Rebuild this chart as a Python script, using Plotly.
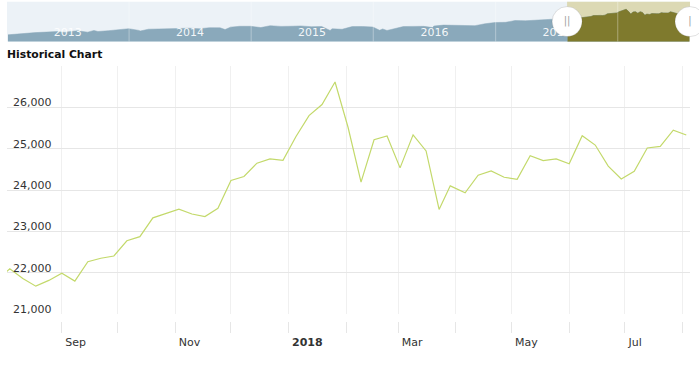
import plotly.graph_objects as go

# ---- main series: weekly closes (week-ending dates) ----
dates = ["2017-07-28", "2017-08-04", "2017-08-11", "2017-08-18", "2017-08-25",
         "2017-09-01", "2017-09-08", "2017-09-15", "2017-09-22", "2017-09-29",
         "2017-10-06", "2017-10-13", "2017-10-20", "2017-10-27", "2017-11-03",
         "2017-11-10", "2017-11-17", "2017-11-24", "2017-12-01", "2017-12-08",
         "2017-12-15", "2017-12-22", "2017-12-29", "2018-01-05", "2018-01-12",
         "2018-01-19", "2018-01-26", "2018-02-02", "2018-02-09", "2018-02-16",
         "2018-02-23", "2018-03-02", "2018-03-09", "2018-03-16", "2018-03-23",
         "2018-03-29", "2018-04-06", "2018-04-13", "2018-04-20", "2018-04-27",
         "2018-05-04", "2018-05-11", "2018-05-18", "2018-05-25", "2018-06-01",
         "2018-06-08", "2018-06-15", "2018-06-22", "2018-06-29", "2018-07-06",
         "2018-07-13", "2018-07-20", "2018-07-27", "2018-08-03"]
values = [21830, 22093, 21858, 21675, 21814,
          21988, 21798, 22268, 22350, 22405,
          22774, 22872, 23329, 23434, 23539,
          23422, 23358, 23558, 24232, 24329,
          24652, 24754, 24719, 25296, 25803,
          26072, 26617, 25521, 24191, 25219,
          25310, 24538, 25336, 24947, 23533,
          24103, 23933, 24360, 24463, 24311,
          24263, 24831, 24715, 24753, 24635,
          25317, 25090, 24581, 24271, 24456,
          25019, 25058, 25451, 25334]

# ---- navigator history (before the main series) ----
hist_dates = ["2013-01-04", "2013-01-31", "2013-02-28", "2013-03-28", "2013-04-30",
              "2013-05-31", "2013-06-24", "2013-06-28", "2013-07-31", "2013-08-30",
              "2013-09-18", "2013-09-30", "2013-10-31", "2013-11-29", "2013-12-31",
              "2014-01-31", "2014-02-03", "2014-02-28", "2014-03-31", "2014-04-30",
              "2014-05-30", "2014-06-30", "2014-07-31", "2014-08-29", "2014-09-30",
              "2014-10-15", "2014-10-31", "2014-11-28", "2014-12-31",
              "2015-01-30", "2015-02-27", "2015-03-31", "2015-04-30", "2015-05-29",
              "2015-06-30", "2015-07-31", "2015-08-25", "2015-08-31", "2015-09-30",
              "2015-10-30", "2015-11-30", "2015-12-31",
              "2016-01-20", "2016-01-29", "2016-02-11", "2016-02-29", "2016-03-31",
              "2016-04-29", "2016-05-31", "2016-06-27", "2016-06-30", "2016-07-29",
              "2016-08-31", "2016-09-30", "2016-10-31", "2016-11-30", "2016-12-30",
              "2017-01-31", "2017-02-28", "2017-03-31", "2017-04-28", "2017-05-31",
              "2017-06-30"]
hist_values = [13435, 13861, 14054, 14579, 14840,
               15116, 14660, 14910, 15500, 14810,
               15677, 15130, 15546, 16086, 16577,
               15699, 15373, 16322, 16458, 16581,
               16717, 16827, 16563, 17098, 17043,
               16142, 17391, 17828, 17823,
               17165, 18133, 17776, 17841, 18011,
               17620, 17690, 15666, 16528, 16285,
               17664, 17720, 17425,
               15767, 16466, 15660, 16517, 17685,
               17774, 17787, 17140, 17930, 18432,
               18401, 18308, 18142, 19124, 19763,
               19864, 20812, 20663, 20941, 21009,
               21350]

main_range = ["2017-08-02 12:00", "2018-08-05"]
nav_range = ["2013-01-01", "2018-08-05"]
y_range = [21000, 27000]
nav_y_range = [10000, 30500]

month_ticks = ["2017-09-01", "2017-10-01", "2017-11-01", "2017-12-01", "2018-01-01",
               "2018-02-01", "2018-03-01", "2018-04-01", "2018-05-01", "2018-06-01",
               "2018-07-01", "2018-08-01"]
month_labels = ["Sep", "", "Nov", "", "<b>2018</b>", "", "Mar", "", "May", "", "Jul", ""]
y_ticks = [21000, 22000, 23000, 24000, 25000, 26000, 27000]
y_labels = ["21,000", "22,000", "23,000", "24,000", "25,000", "26,000", ""]
year_grid = ["2014-01-01", "2015-01-01", "2016-01-01", "2017-01-01", "2018-01-01"]
year_label_pos = ["2013-07-02", "2014-07-02", "2015-07-02", "2016-07-02", "2017-07-02"]
year_labels = ["2013", "2014", "2015", "2016", "2017"]

W, H = 699, 379
FONT = "DejaVu Sans"

nav_dates = hist_dates + dates
nav_values = hist_values + values
sel_dates = [d for d in dates if d >= main_range[0][:10]]
sel_values = [v for d, v in zip(dates, values) if d >= main_range[0][:10]]

fig = go.Figure()

# main line
fig.add_trace(go.Scatter(x=dates, y=values, mode="lines",
                         line=dict(color="#c3d96b", width=1.2),
                         xaxis="x", yaxis="y", hoverinfo="skip"))

# navigator areas
fig.add_trace(go.Scatter(x=nav_dates, y=nav_values, mode="lines", fill="tozeroy",
                         line=dict(color="#8aa9bb", width=0.5),
                         fillcolor="#8aa9bb", xaxis="x2", yaxis="y2", hoverinfo="skip"))
fig.add_trace(go.Scatter(x=sel_dates, y=sel_values, mode="lines", fill="tozeroy",
                         line=dict(color="#7f7a2d", width=0.5),
                         fillcolor="#7f7a2d", xaxis="x2", yaxis="y2", hoverinfo="skip"))

# navigator handles
mid_nav = sum(nav_y_range) / 2
fig.add_trace(go.Scatter(x=main_range, y=[mid_nav, mid_nav], mode="markers+text",
                         marker=dict(size=30, color="white",
                                     line=dict(color="rgba(0,0,0,0.12)", width=1)),
                         text=["||", "|"], textposition="middle center",
                         textfont=dict(family=FONT, size=10, color="#a0a0a0"),
                         cliponaxis=False, xaxis="x2", yaxis="y2", hoverinfo="skip"))

shapes = [
    dict(type="rect", xref="x2 domain", yref="y2 domain", x0=0, x1=1, y0=0, y1=1,
         fillcolor="#ecf2f7", line=dict(width=0), layer="below"),
    dict(type="rect", xref="x2", yref="y2 domain", x0=main_range[0], x1=main_range[1],
         y0=0, y1=1, fillcolor="#dcd9b4", line=dict(width=0), layer="below"),
]
for g in year_grid:
    shapes.append(dict(type="line", xref="x2", yref="y2 domain", x0=g, x1=g, y0=0, y1=1,
                       line=dict(color="rgba(255,255,255,0.35)", width=1), layer="above"))

x0d, x1d = 7 / W, 690 / W

fig.update_layout(
    width=W, height=H,
    margin=dict(l=0, r=0, t=0, b=0),
    paper_bgcolor="white", plot_bgcolor="white",
    showlegend=False,
    font=dict(family=FONT, size=11, color="#333333"),
    shapes=shapes,
    xaxis=dict(type="date", range=main_range, domain=[x0d, x1d],
               anchor="free", position=(H - 323) / H,
               tickmode="array", tickvals=month_ticks, ticktext=month_labels,
               ticks="outside", ticklen=11, tickcolor="#e6e6e6", tickwidth=1,
               ticklabelposition="outside right", ticklabelshift=3,
               ticklabelstandoff=11,
               showgrid=True, gridcolor="#f0f0f0", gridwidth=1,
               showline=False, zeroline=False,
               tickfont=dict(family=FONT, size=11, color="#333333")),
    yaxis=dict(range=y_range, domain=[(H - 315.7) / H, (H - 66.5) / H],
               anchor="x",
               tickmode="array", tickvals=y_ticks, ticktext=y_labels,
               ticklabelposition="inside", ticklabelshift=-5, ticklabelstandoff=3,
               ticklabeloverflow="allow",
               ticks="", showgrid=True, gridcolor="#e6e6e6", gridwidth=1,
               showline=False, zeroline=False,
               tickfont=dict(family=FONT, size=11, color="#333333")),
    xaxis2=dict(type="date", range=nav_range, domain=[x0d, x1d], anchor="y2",
                tickmode="array", tickvals=year_label_pos, ticktext=year_labels,
                ticklabelposition="inside", ticks="", showgrid=False,
                showline=False, zeroline=False,
                tickfont=dict(family=FONT, size=11, color="rgba(255,255,255,0.92)")),
    yaxis2=dict(range=nav_y_range, domain=[(H - 41.7) / H, (H - 1.7) / H], anchor="x2",
                showticklabels=False, ticks="", showgrid=False, zeroline=False,
                showline=False),
    annotations=[dict(text="<b>Historical Chart</b>", xref="paper", yref="paper",
                      x=5 / W, y=(H - 55) / H, xanchor="left", yanchor="middle",
                      showarrow=False,
                      font=dict(family=FONT, size=10.8, color="#111111"))],
)

fig.write_html("out.html", config={"displayModeBar": False},
               post_script="document.body.style.margin='0px';document.body.style.overflow='hidden';")
